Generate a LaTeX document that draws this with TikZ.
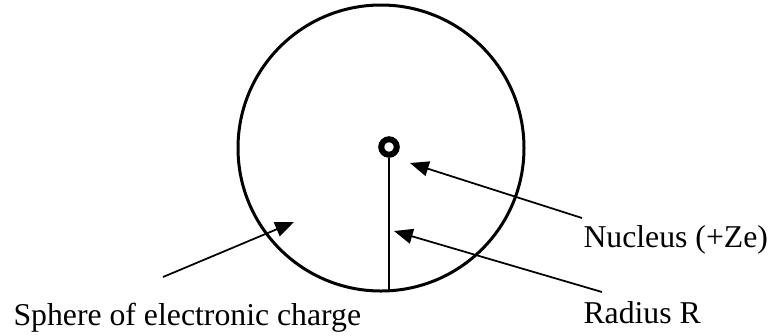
\documentclass[tikz,border=0pt]{standalone}
\usepackage{fontspec}
\setmainfont{Liberation Serif}
\usetikzlibrary{arrows.meta}
\tikzset{
  sphere/.style={line width=1.2pt},
  nucleusring/.style={circle,draw,line width=2.4pt,minimum size=6.2pt,inner sep=0pt},
  radiusline/.style={line width=0.8pt},
  pointer/.style={line width=0.7pt,-{Triangle[length=7.5pt,width=6pt]}},
  tag/.style={anchor=base west,inner sep=0pt,font=\fontsize{12.7}{15}\selectfont},
}
\begin{document}
\begin{tikzpicture}[x=0.4pt,y=-0.4pt]
        \useasboundingbox (0,0) rectangle (774,335);
        % sphere of charge and the nucleus
        \draw[sphere] (381,148) circle[radius=143];
        \node[nucleusring] (nucleus) at (389,147) {};
        \coordinate (rim) at (389,291);
        \draw[radiusline] (nucleus.south) -- (rim);

        % labels
        \node[tag] (nuclab) at (583,247) {Nucleus (+Ze)};
        \node[tag] (radlab) at (583,323) {Radius R};
        \node[tag] (sphlab) at (13,325) {Sphere of electronic charge};

        % pointers
        \coordinate (nuctail) at (582,218);
        \coordinate (nuctip) at (410,163);
        \coordinate (radtail) at (602,292);
        \coordinate (radtip) at (394,231);
        \coordinate (sphtail) at (163,277);
        \coordinate (sphtip) at (294,222);
        \draw[pointer] (nuctail) -- (nuctip);
        \draw[pointer] (radtail) -- (radtip);
        \draw[pointer] (sphtail) -- (sphtip);
    \end{tikzpicture}
\end{document}
